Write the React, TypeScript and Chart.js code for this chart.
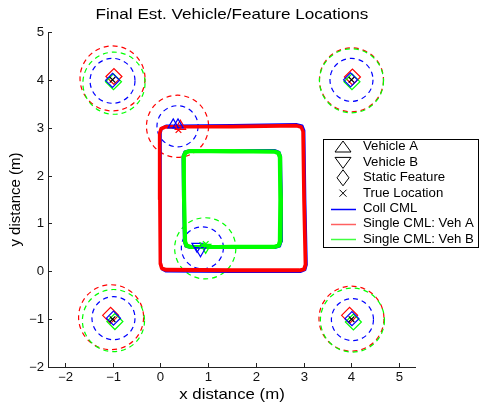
import React, { useEffect, useRef } from "react";
import { Chart, registerables } from "chart.js";

Chart.register(...registerables);

type P = [number, number];

const titleText = "Final Est. Vehicle/Feature Locations";
const xAxisTitle = "x distance (m)";
const yAxisTitle = "y distance (m)";

const xMin = -2.35;
const xMax = 5.35;
const yMin = -2;
const yMax = 5;

const xTickValues = [-2, -1, 0, 1, 2, 3, 4, 5];
const xTickLabels = ["\u22122", "\u22121", "0", "1", "2", "3", "4", "5"];
const yTickValues = [-2, -1, 0, 1, 2, 3, 4, 5];
const yTickLabels = ["\u22122", "\u22121", "0", "1", "2", "3", "4", "5"];

const legendLabels = [
  "Vehicle A",
  "Vehicle B",
  "Static Feature",
  "True Location",
  "Coll CML",
  "Single CML: Veh A",
  "Single CML: Veh B",
];

// Static features
const featureTrue: P[] = [[-1, 4], [4, 4], [-1, -1], [4, -1]];
const featureColl: P[] = [[-1.0, 3.99], [3.98, 4.0], [-0.98, -0.98], [4.01, -0.99]];
const featureSingleA: P[] = [[-0.97, 4.07], [4.02, 4.06], [-1.04, -0.92], [3.96, -0.92]];
const featureSingleB: P[] = [[-0.98, 3.96], [4.01, 3.96], [-0.95, -1.05], [4.04, -1.06]];

// Vehicle final positions
const vehACollEst: P[] = [[0.27, 3.06], [0.37, 3.06]];
const vehASingleEst: P[] = [[0.42, 3.03]];
const vehATrue: P[] = [[0.38, 2.95]];
const vehBCollEst: P[] = [[0.77, 0.52], [0.84, 0.43]];
const vehBSingleEst: P[] = [[0.95, 0.5]];
const vehBTrue: P[] = [[0.88, 0.55], [0.95, 0.57]];

// Uncertainty circles: centre x, centre y, radius (m)
const collCircX = [-1.0, 4.0, -0.98, 4.02, 0.36, 0.88];
const collCircY = [3.98, 4.0, -0.98, -1.01, 3.03, 0.49];
const collCircR = [0.47, 0.45, 0.45, 0.44, 0.43, 0.44];
const singleACircX = [-1.0, 4.0, -1.03, 4.0, 0.36];
const singleACircY = [4.03, 4.0, -0.96, -0.99, 3.03];
const singleACircR = [0.68, 0.67, 0.68, 0.68, 0.65];
const singleBCircX = [-0.97, 4.0, -0.98, 4.02, 0.94];
const singleBCircY = [3.93, 3.98, -1.03, -1.02, 0.48];
const singleBCircR = [0.65, 0.67, 0.65, 0.67, 0.64];

// Vehicle A trajectory (outer square), single CML estimate, several laps
const singleALoop1: P[] = [[0.35, 3.02], [1.5, 3.03], [2.85, 3.05], [2.95, 3.02], [2.99, 2.93], [3.01, 1.5], [3.04, 0.14], [3.01, 0.04], [2.92, 0.02], [1.5, 0.02], [0.12, 0.03], [0.03, 0.06], [0.0, 0.16], [-0.01, 1.5], [-0.02, 2.88], [0.01, 2.98], [0.1, 3.02], [0.35, 3.02]];
const singleALoop2: P[] = [[0.35, 3.015], [1.5, 3.02], [2.85, 3.04], [2.945, 3.01], [2.98, 2.92], [3.0, 1.5], [3.03, 0.145], [3.0, 0.05], [2.91, 0.03], [1.5, 0.03], [0.125, 0.04], [0.035, 0.07], [0.01, 0.165], [0.0, 1.5], [-0.01, 2.875], [0.02, 2.97], [0.11, 3.01], [0.35, 3.015]];
const singleALoop3: P[] = [[0.35, 3.02], [1.5, 3.015], [2.855, 3.035], [2.955, 3.005], [2.995, 2.91], [3.015, 1.5], [3.045, 0.135], [3.015, 0.035], [2.92, 0.01], [1.5, 0.01], [0.115, 0.02], [0.025, 0.055], [-0.005, 0.155], [-0.015, 1.5], [-0.015, 2.89], [0.015, 2.985], [0.105, 3.025], [0.35, 3.025]];
// Collaborative estimate of vehicle A trajectory
const collALoop1: P[] = [[0.35, 3.04], [1.5, 3.05], [2.86, 3.07], [2.97, 3.04], [3.01, 2.94], [3.03, 1.5], [3.06, 0.14], [3.03, 0.03], [2.93, -0.01], [1.5, -0.01], [0.12, 0.0], [0.04, 0.04], [0.01, 0.15], [0.01, 1.5], [0.0, 2.89], [0.03, 2.99], [0.12, 3.04], [0.35, 3.04]];

// Vehicle B trajectory (inner square), single CML estimate, several laps
const singleBLoop1: P[] = [[0.88, 0.5], [1.5, 0.5], [2.38, 0.5], [2.48, 0.53], [2.51, 0.62], [2.52, 1.5], [2.51, 2.39], [2.48, 2.48], [2.39, 2.51], [1.5, 2.52], [0.62, 2.52], [0.52, 2.49], [0.48, 2.4], [0.49, 1.5], [0.51, 0.62], [0.54, 0.53], [0.63, 0.5], [0.88, 0.5]];
const singleBLoop2: P[] = [[0.88, 0.515], [1.5, 0.52], [2.375, 0.515], [2.47, 0.545], [2.495, 0.63], [2.505, 1.5], [2.495, 2.38], [2.465, 2.465], [2.38, 2.495], [1.5, 2.505], [0.625, 2.505], [0.53, 2.475], [0.495, 2.39], [0.505, 1.5], [0.525, 0.625], [0.555, 0.545], [0.64, 0.515], [0.88, 0.515]];
const singleBLoop3: P[] = [[0.88, 0.51], [1.5, 0.52], [2.39, 0.52], [2.49, 0.55], [2.52, 0.63], [2.53, 1.5], [2.5, 2.38], [2.47, 2.47], [2.38, 2.5], [1.5, 2.5], [0.62, 2.51], [0.53, 2.47], [0.5, 2.39], [0.5, 1.5], [0.52, 0.62], [0.55, 0.54], [0.64, 0.51], [0.88, 0.51]];
// Collaborative estimate of vehicle B trajectory
const collBLoop1: P[] = [[0.88, 0.49], [1.5, 0.49], [2.39, 0.49], [2.5, 0.52], [2.53, 0.62], [2.54, 1.5], [2.52, 2.4], [2.49, 2.49], [2.39, 2.53], [1.5, 2.53], [0.62, 2.53], [0.51, 2.5], [0.47, 2.4], [0.48, 1.5], [0.5, 0.62], [0.53, 0.52], [0.63, 0.49], [0.88, 0.49]];

const BLUE = "#0000ff";
const RED = "#ff0000";
const GREEN = "#00ff00";
const BLACK = "#000000";
const FONT = '"Liberation Sans", Arial, Helvetica, sans-serif';

const toXY = (arr: P[]) => arr.map(([x, y]) => ({ x, y }));

function stretchedText(ctx: CanvasRenderingContext2D, text: string, x: number, y: number, sx: number) {
  ctx.save();
  ctx.translate(x, y);
  ctx.scale(sx, 1);
  ctx.fillText(text, 0, 0);
  ctx.restore();
}

const circlePlugin = {
  id: "circles",
  beforeDatasetsDraw(chart: any) {
    const { ctx, chartArea } = chart;
    const xs = chart.scales.x;
    const ys = chart.scales.y;
    const groups = [
      { color: BLUE, cx: collCircX, cy: collCircY, r: collCircR },
      { color: RED, cx: singleACircX, cy: singleACircY, r: singleACircR },
      { color: GREEN, cx: singleBCircX, cy: singleBCircY, r: singleBCircR },
    ];
    ctx.save();
    ctx.beginPath();
    ctx.rect(chartArea.left, chartArea.top, chartArea.right - chartArea.left, chartArea.bottom - chartArea.top);
    ctx.clip();
    ctx.lineWidth = 1.2;
    ctx.setLineDash([5, 4]);
    for (const g of groups) {
      ctx.strokeStyle = g.color;
      for (let i = 0; i < g.cx.length; i++) {
        const px = xs.getPixelForValue(g.cx[i]);
        const py = ys.getPixelForValue(g.cy[i]);
        const pr = xs.getPixelForValue(g.cx[i] + g.r[i]) - px;
        ctx.beginPath();
        ctx.arc(px, py, pr, 0, Math.PI * 2);
        ctx.stroke();
      }
    }
    ctx.restore();
  },
};

const decorPlugin = {
  id: "decor",
  afterDraw(chart: any) {
    const { ctx, chartArea } = chart;
    const xs = chart.scales.x;
    const ys = chart.scales.y;
    const { left, right, top, bottom } = chartArea;
    ctx.save();
    // axes
    ctx.strokeStyle = "#222";
    ctx.lineWidth = 1;
    ctx.setLineDash([]);
    ctx.beginPath();
    ctx.moveTo(left + 0.5, top);
    ctx.lineTo(left + 0.5, bottom + 0.5);
    ctx.lineTo(right, bottom + 0.5);
    ctx.stroke();
    ctx.fillStyle = "#111";
    ctx.font = `12px ${FONT}`;
    ctx.textAlign = "center";
    ctx.textBaseline = "top";
    xTickValues.forEach((v, i) => {
      const px = Math.round(xs.getPixelForValue(v)) + 0.5;
      ctx.beginPath();
      ctx.moveTo(px, bottom);
      ctx.lineTo(px, bottom - 4);
      ctx.stroke();
      stretchedText(ctx, xTickLabels[i], px, bottom + 5, 1.1);
    });
    ctx.textAlign = "right";
    ctx.textBaseline = "middle";
    yTickValues.forEach((v, i) => {
      const py = Math.round(ys.getPixelForValue(v)) + 0.5;
      ctx.beginPath();
      ctx.moveTo(left, py);
      ctx.lineTo(left + 4, py);
      ctx.stroke();
      stretchedText(ctx, yTickLabels[i], left - 4, py, 1.1);
    });
    // titles
    ctx.fillStyle = "#000";
    ctx.font = `15px ${FONT}`;
    ctx.textAlign = "center";
    ctx.textBaseline = "middle";
    stretchedText(ctx, titleText, (left + right) / 2, 15, 1.14);
    stretchedText(ctx, xAxisTitle, (left + right) / 2, 395, 1.12);
    ctx.save();
    ctx.translate(16, (top + bottom) / 2);
    ctx.rotate(-Math.PI / 2);
    ctx.fillText(yAxisTitle, 0, 0);
    ctx.restore();

    // legend
    const lx = 323.5, ly = 139.5, lw = 155, lh = 108;
    ctx.fillStyle = "#fff";
    ctx.fillRect(lx, ly, lw, lh);
    ctx.strokeStyle = "#000";
    ctx.lineWidth = 1;
    ctx.strokeRect(lx, ly, lw, lh);
    const mx = 343;
    const tx = 363;
    const rowY = (i: number) => 147 + i * 15.4;
    ctx.font = `12px ${FONT}`;
    ctx.textAlign = "left";
    ctx.textBaseline = "middle";
    legendLabels.forEach((lab, i) => {
      ctx.fillStyle = "#000";
      stretchedText(ctx, lab, tx, rowY(i), 1.1);
    });
    ctx.strokeStyle = "#000";
    ctx.lineWidth = 1;
    // triangle up
    let cy = rowY(0);
    ctx.beginPath();
    ctx.moveTo(mx, cy - 6);
    ctx.lineTo(mx + 8, cy + 5);
    ctx.lineTo(mx - 8, cy + 5);
    ctx.closePath();
    ctx.stroke();
    // triangle down
    cy = rowY(1);
    ctx.beginPath();
    ctx.moveTo(mx, cy + 6);
    ctx.lineTo(mx + 8, cy - 5);
    ctx.lineTo(mx - 8, cy - 5);
    ctx.closePath();
    ctx.stroke();
    // diamond
    cy = rowY(2);
    ctx.beginPath();
    ctx.moveTo(mx, cy - 8);
    ctx.lineTo(mx + 6, cy);
    ctx.lineTo(mx, cy + 8);
    ctx.lineTo(mx - 6, cy);
    ctx.closePath();
    ctx.stroke();
    // cross
    cy = rowY(3);
    ctx.beginPath();
    ctx.moveTo(mx - 3.5, cy - 3.5);
    ctx.lineTo(mx + 3.5, cy + 3.5);
    ctx.moveTo(mx + 3.5, cy - 3.5);
    ctx.lineTo(mx - 3.5, cy + 3.5);
    ctx.stroke();
    // lines
    [BLUE, "#ff6060", "#40ff40"].forEach((c, k) => {
      const yy = Math.round(rowY(4 + k)) + 0.5;
      ctx.strokeStyle = c;
      ctx.lineWidth = 1.5;
      ctx.beginPath();
      ctx.moveTo(331, yy);
      ctx.lineTo(356, yy);
      ctx.stroke();
    });
    ctx.restore();
  },
};

function pathDs(data: P[], color: string, width: number, order: number) {
  return {
    type: "scatter" as const,
    data: toXY(data),
    showLine: true,
    borderColor: color,
    backgroundColor: color,
    borderWidth: width,
    pointRadius: 0,
    pointHoverRadius: 0,
    tension: 0,
    borderJoinStyle: "round" as const,
    borderCapStyle: "round" as const,
    order,
  };
}

function markDs(data: P[], color: string, style: string, radius: number, order: number, rotation = 0) {
  return {
    type: "scatter" as const,
    data: toXY(data),
    showLine: false,
    pointStyle: style,
    pointRadius: radius,
    pointHoverRadius: radius,
    pointRotation: rotation,
    pointBorderColor: color,
    pointBackgroundColor: "rgba(0,0,0,0)",
    pointBorderWidth: 1.2,
    borderColor: color,
    backgroundColor: "rgba(0,0,0,0)",
    order,
  };
}

export default function App() {
  const ref = useRef<HTMLCanvasElement | null>(null);
  useEffect(() => {
    if (!ref.current) return;
    const chart = new Chart(ref.current, {
      type: "scatter",
      data: {
        datasets: [
          pathDs([...collALoop1], BLUE, 2.5, 10),
          pathDs([...collBLoop1], BLUE, 2.5, 10),
          pathDs([...singleALoop1, ...singleALoop2, ...singleALoop3], RED, 3, 8),
          pathDs([...singleBLoop1, ...singleBLoop2, ...singleBLoop3], GREEN, 3.5, 7),
          markDs(featureSingleA, RED, "rectRot", 8, 3),
          markDs(featureSingleB, GREEN, "rectRot", 8, 2),
          markDs(featureColl, BLUE, "rectRot", 7, 1),
          markDs(featureTrue, BLACK, "crossRot", 4, 0),
          markDs(vehACollEst, BLUE, "triangle", 6, 1),
          markDs(vehASingleEst, RED, "triangle", 6, 1),
          markDs(vehATrue, RED, "crossRot", 4, 0),
          markDs(vehBCollEst, BLUE, "triangle", 6, 1, 180),
          markDs(vehBSingleEst, GREEN, "triangle", 6, 1, 180),
          markDs(vehBTrue, GREEN, "crossRot", 4, 0),
        ] as any,
      },
      options: {
        animation: false,
        responsive: false,
        maintainAspectRatio: false,
        events: [],
        layout: { padding: { left: 48, right: 64, top: 32, bottom: 39 } },
        plugins: { legend: { display: false }, tooltip: { enabled: false }, title: { display: false } },
        scales: {
          x: { type: "linear", min: xMin, max: xMax, display: false },
          y: { type: "linear", min: yMin, max: yMax, display: false },
        },
      },
      plugins: [circlePlugin, decorPlugin],
    });
    return () => chart.destroy();
  }, []);
  return (
    <div style={{ position: "absolute", left: 0, top: 0, width: 480, height: 406, background: "#fff" }}>
      <canvas ref={ref} width={480} height={406} style={{ width: 480, height: 406, display: "block" }} />
    </div>
  );
}
